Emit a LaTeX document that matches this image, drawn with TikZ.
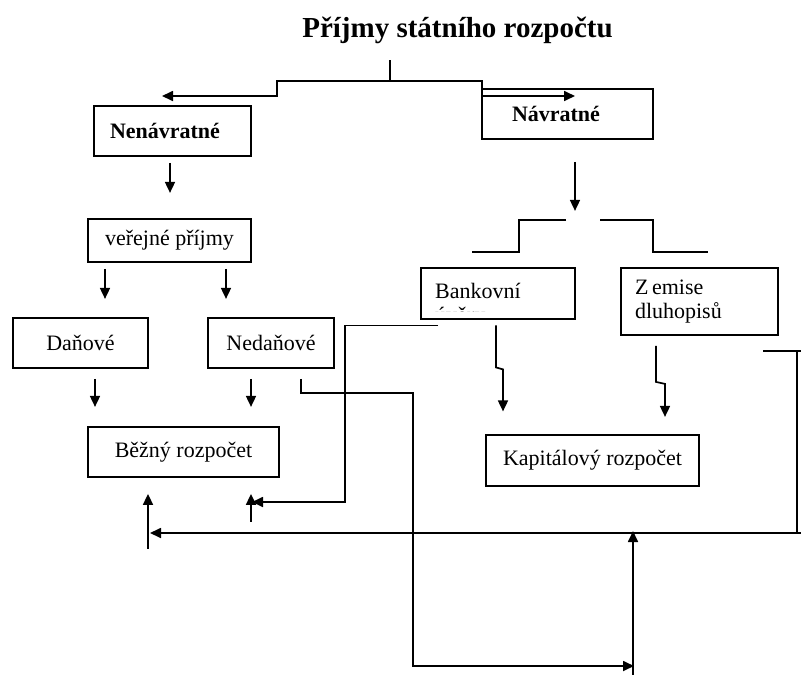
\documentclass[tikz,border=0pt]{standalone}
\usepackage{fontspec}
\setmainfont{Liberation Serif}
\usetikzlibrary{arrows.meta}

\begin{document}
\begin{tikzpicture}[x=1pt,y=-1pt,
    txt/.style={inner sep=0pt, font=\fontsize{22}{24}\selectfont},
    box/.style={draw, line width=1.8pt, inner sep=0pt, font=\fontsize{22}{24}\selectfont},
    lbox/.style={box, align=left},
    line/.style={line width=1.7pt},
    arr/.style={line width=1.7pt, -{Triangle[width=10pt,length=11pt]}}]
    \useasboundingbox (0,0) rectangle (801,675);
    \node[anchor=base, font=\fontsize{29}{32}\selectfont\bfseries] (title) at (457.5,37) {Příjmy státního rozpočtu};
    % boxes
    \node[lbox, inner xsep=16pt, text width=125pt, minimum height=50pt, font=\fontsize{22}{24}\selectfont\bfseries] (nenav) at (172.5,131) {Nenávratné};
    \node[lbox, inner xsep=30pt, text width=111pt, minimum height=50pt, font=\fontsize{22}{24}\selectfont\bfseries] (navr) at (567.5,114) {Návratné};
    \node[box, minimum width=163pt, minimum height=43pt] (verej) at (169.5,240.5) {veřejné příjmy};
    \node[box, minimum width=135pt, minimum height=50pt] (danove) at (80.5,343) {Daňové};
    \node[box, minimum width=126pt, minimum height=50pt] (nedan) at (271,343) {Nedaňové};
    \node[box, minimum width=191pt, minimum height=50pt] (bezny) at (183.5,452) {Běžný rozpočet};
    \node[box, minimum width=154pt, minimum height=51pt] (bank) at (498,293.5) {};
    \begin{scope}
      \clip (bank.north west) rectangle ([yshift=8pt]bank.south east);
      \node[txt, anchor=base west] (bank-t) at (435,298) {Bankovní};
      \node[txt, anchor=base west] (bank-u) at (435,322) {úvěry};
    \end{scope}
    \node[lbox, inner xsep=14pt, text width=129pt, minimum height=67pt] (emise) at (699.5,301.5) {Z\,emise\\dluhopisů};
    \node[box, minimum width=213pt, minimum height=51pt] (kapital) at (592.5,460.5) {Kapitálový rozpočet};
    % top split
    \draw[line] (390,60) -- (390,81);
    \draw[arr] (390,81) -- (277,81) -- (277,96) -- (162,96);
    \draw[arr] (390,81) -- (482,81) -- (482,96) -- (575,96);
    % left branch
    \draw[arr] (nenav.south) ++(-2.5,6) -- ++(0,30);
    \draw[arr] (verej.south) ++(-64.5,6) -- ++(0,30);
    \draw[arr] (verej.south) ++(56.5,6) -- ++(0,30);
    \draw[arr] (danove.south) ++(14.5,10) -- ++(0,28);
    \draw[arr] (nedan.south) ++(-20,10) -- ++(0,28);
    \draw[arr] (nedan.south) ++(30,10) -- ++(0,14) -| (413,666) -- (634,666);
    \draw[arr] (bezny.south) ++(67.5,44) -- ++(0,-28);
    \draw[arr] (bezny.south) ++(-35.5,71) -- ++(0,-55);
    % right branch
    \draw[arr] (navr.south) ++(7.5,22) -- ++(0,49);
    \draw[line] (navr.south) ++(-1.5,80) -- ++(-47,0) -- ++(0,32) -- ++(-47,0);
    \draw[line] (navr.south) ++(32.5,80) -- ++(53,0) -- ++(0,32) -- ++(55,0);
    \draw[arr] (bank.south) ++(-60,5.5) -| (345,502) -- (252,502);
    \draw[arr] (bank.south) ++(-2,5.5) -- ++(0,42) -- ++(7,2) -- ++(0,42);
    \draw[arr] (emise.south) ++(-43.5,10) -- ++(0,36) -- ++(9,2) -- ++(0,33);
    % bottom loop
    \draw[line] (763,351) -- (801,351);
    \draw[line] (797,351) -- (797,533);
    \draw[arr] (801,533) -- (150,533);
    \draw[arr] (633,675) -- (633,531);
\end{tikzpicture}
\end{document}
